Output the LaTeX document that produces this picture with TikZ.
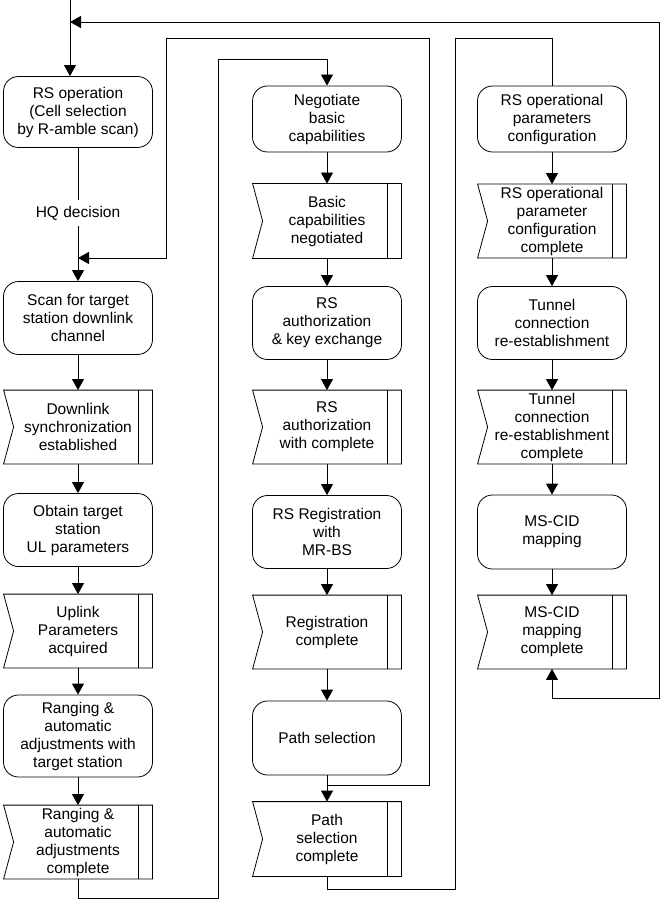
\documentclass[tikz,border=0pt]{standalone}
\usepackage{fontspec}
\setmainfont{Liberation Sans}
\usetikzlibrary{arrows.meta, positioning, calc}

\begin{document}
\begin{tikzpicture}[x=1pt, y=-1pt, line width=0.8pt,
    font=\fontsize{15.5}{18}\selectfont,
    proc/.style={draw, rounded corners=15pt, minimum width=149pt, minimum height=73pt, align=center, inner sep=2pt},
    flagbox/.style={minimum width=148pt, minimum height=73pt, align=center, inner sep=2pt},
    arr/.style={-{Triangle[width=12pt,length=11pt]}},
    arrboth/.style={{Triangle[width=12pt,length=11pt]}-{Triangle[width=12pt,length=11pt]}}]
    \useasboundingbox (0,0) rectangle (661,901);

    % Left column
    \node[proc, minimum height=71pt] (rsop) at (78,112) {RS operation\\(Cell selection\\by R-amble scan)};
    \node[inner sep=6pt] (hq) at (78,213) {HQ decision};
    \node[proc] (scan) at (78,318) {Scan for target\\station downlink\\channel};
    \node[flagbox] (dlsync) at (78,427) {Downlink\\synchronization\\established};
    \node[proc] (obtain) at (78,530) {Obtain target\\station\\UL parameters};
    \node[flagbox] (ulacq) at (78,631) {Uplink\\Parameters\\acquired};
    \node[proc, minimum height=82pt] (rang) at (78,736) {Ranging \&\\automatic\\adjustments with\\target station};
    \node[flagbox] (rangdone) at (78,842) {Ranging \&\\automatic\\adjustments\\complete};

    % Middle column
    \node[proc, minimum height=66pt] (nego) at (327,119) {Negotiate\\basic\\capabilities};
    \node[flagbox, minimum height=74pt] (basic) at (327,221) {Basic\\capabilities\\negotiated};
    \node[proc] (rsauth) at (327,323) {RS\\authorization\\\& key exchange};
    \node[flagbox] (authdone) at (327,427) {RS\\authorization\\with complete};
    \node[proc] (rsreg) at (327,532) {RS Registration\\with\\MR-BS};
    \node[flagbox] (regdone) at (327,632) {Registration\\complete};
    \node[proc, minimum height=74pt] (path) at (327,738) {Path selection};
    \node[flagbox, minimum height=74pt] (pathdone) at (327,839) {Path\\selection\\complete};

    % Right column
    \node[proc, minimum height=66pt] (opcfg) at (552,119) {RS operational\\parameters\\configuration};
    \node[flagbox] (opdone) at (552,221) {RS operational\\parameter\\configuration\\complete};
    \node[proc] (tunnel) at (552,323) {Tunnel\\connection\\re-establishment};
    \node[flagbox] (tundone) at (552,427) {Tunnel\\connection\\re-establishment\\complete};
    \node[proc, minimum height=74pt] (mscid) at (552,532) {MS-CID\\mapping};
    \node[flagbox] (msdone) at (552,632) {MS-CID\\mapping\\complete};

    % Flag outlines
    \foreach \f in {dlsync,ulacq,rangdone,basic,authdone,regdone,pathdone,opdone,tundone,msdone}{
        \draw (\f.north west) -- (\f.north east) -- (\f.south east) -- (\f.south west) -- ([xshift=10pt]\f.west) -- cycle;
        \draw ([xshift=-14pt]\f.north east) -- ([xshift=-14pt]\f.south east);
    }

    % Junctions and corners
    \coordinate (start) at (70,0);
    \coordinate (j1) at (70,22);
    \coordinate (j2) at (78,258);
    \coordinate (j3) at (327,785);
    \coordinate (c1a) at (659,698);
    \coordinate (c2a) at (429,785);
    \coordinate (c2b) at (166,38);
    \coordinate (c3a) at (218,898);
    \coordinate (c3b) at (327,59);
    \coordinate (c4a) at (455,889);
    \coordinate (c4b) at (552,38);

    % Straight flow
    \draw[arr] (start) -- (start |- rsop.north);
    \draw (rsop) -- (hq);
    \draw[arr] (hq) -- (scan);
    \draw[arr] (scan) -- (dlsync);
    \draw[arr] (dlsync) -- (obtain);
    \draw[arr] (obtain) -- (ulacq);
    \draw[arr] (ulacq) -- (rang);
    \draw[arr] (rang) -- (rangdone);
    \draw[arr] (nego) -- (basic);
    \draw[arr] (basic) -- (rsauth);
    \draw[arr] (rsauth) -- (authdone);
    \draw[arr] (authdone) -- (rsreg);
    \draw[arr] (rsreg) -- (regdone);
    \draw[arr] (regdone) -- (path);
    \draw[arr] (path) -- (pathdone);
    \draw[arr] (opcfg) -- (opdone);
    \draw[arr] (opdone) -- (tunnel);
    \draw[arr] (tunnel) -- (tundone);
    \draw[arr] (tundone) -- (mscid);
    \draw[arr] (mscid) -- (msdone);

    % Loops between columns
    \draw[arrboth] (msdone) |- (c1a) |- (j1);
    \draw[arr] (j3) -- (c2a) |- (c2b) |- (j2);
    \draw[arr] (rangdone) |- (c3a) |- (c3b) -- (nego);
    \draw (pathdone) |- (c4a) |- (c4b) -- (opcfg);
\end{tikzpicture}
\end{document}
